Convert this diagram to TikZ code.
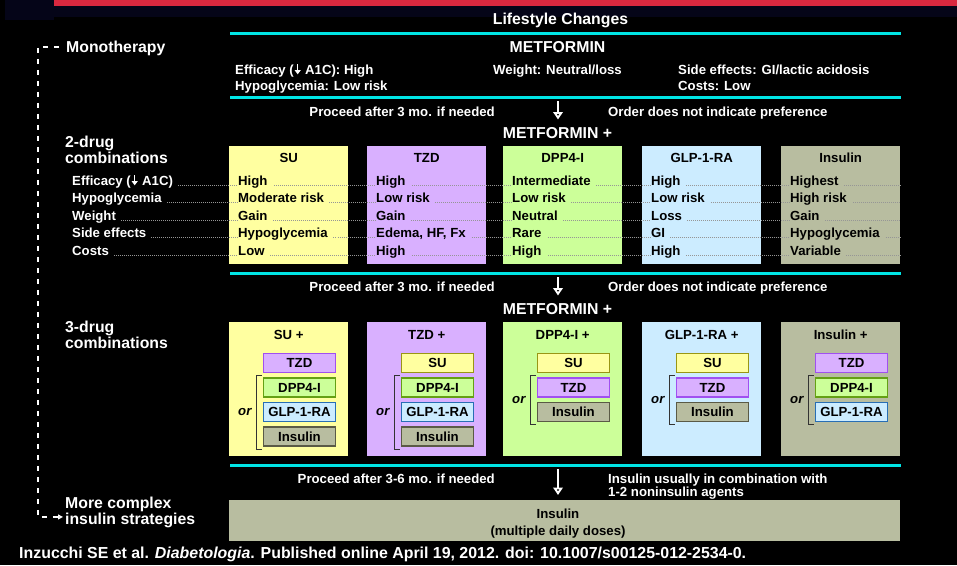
\documentclass[tikz,border=0pt]{standalone}
\usepackage{fontspec}
\setmainfont{Liberation Sans}
\usetikzlibrary{arrows.meta,calc}

\definecolor{cyanl}{RGB}{0,229,229}
\definecolor{redl}{RGB}{217,40,63}
\definecolor{navy}{RGB}{5,5,24}
\definecolor{suc}{RGB}{255,255,160}
\definecolor{tzdc}{RGB}{217,176,255}
\definecolor{dppc}{RGB}{204,255,153}
\definecolor{glpc}{RGB}{204,236,255}
\definecolor{insc}{RGB}{184,189,160}
\definecolor{sub}{RGB}{153,150,20}
\definecolor{tzdb}{RGB}{160,80,240}
\definecolor{dppb}{RGB}{100,160,20}
\definecolor{glpb}{RGB}{40,110,180}
\definecolor{insb}{RGB}{90,90,70}
\definecolor{dotc}{RGB}{150,150,150}

\newcommand{\dnarrow}{\kern0.8pt\tikz[baseline=0pt,x=1pt,y=1pt]{\draw[white,line width=1.5pt,-{Triangle[length=4.2pt,width=6pt]}] (0,9.8) -- (0,-0.3);}\kern0.8pt}
\newcommand{\drugvals}[7]{%
  \node[valtxt,fill=#2] (#1v0) at ($(#1.north west)+(9,39)$) {#3\kern5pt};
  \node[valtxt,fill=#2] (#1v1) at ($(#1.north west)+(9,56.5)$) {#4\kern5pt};
  \node[valtxt,fill=#2] (#1v2) at ($(#1.north west)+(9,74)$) {#5\kern5pt};
  \node[valtxt,fill=#2] (#1v3) at ($(#1.north west)+(9,91.5)$) {#6\kern5pt};
  \node[valtxt,fill=#2] (#1v4) at ($(#1.north west)+(9,109)$) {#7\kern5pt};
}
\newcommand{\combobox}[6]{%
  \node[smallbox,fill=#4,draw=#5] (#1) at ($(#2.north west)+(70.5,41+24.5*#3)$) {#6};}
\newcommand{\orbracket}[2]{%
  \draw[bracketline] ($(#1.north west)+(-1,-2)$) -- ++(-5,0) |- ($(#2.south west)+(-1,2.5)$);
  \node[ortxt] (#1or) at ($(#1.north west)!0.5!(#2.south west)+(-18,0)$) {or};}

\begin{document}
\begin{tikzpicture}[x=1pt,y=-1pt,
  f13/.style={font=\fontsize{13.2}{15}\selectfont\bfseries},
  f15/.style={font=\fontsize{15.8}{17}\selectfont\bfseries},
  wtxt/.style={text=white, inner sep=0pt},
  btxt/.style={text=black, inner sep=0pt},
  valtxt/.style={text=black, f13, anchor=base west, inner xsep=0pt, inner ysep=1.5pt},
  ortxt/.style={text=black, inner sep=0pt, font=\fontsize{13.2}{15}\selectfont\bfseries\itshape},
  cyanrule/.style={draw=cyanl, line width=3pt},
  bigbox/.style={draw=none, minimum width=119pt, anchor=north west, inner sep=0pt},
  smallbox/.style={line width=1.4pt, minimum width=72pt, minimum height=19pt, inner sep=0pt, f13, text=black},
  dotrule/.style={draw=dotc, line width=0.7pt, dash pattern=on 0.6pt off 1.4pt},
  downarrow/.style={draw=white, line width=2.6pt, -{Triangle[length=7.5pt,width=9.5pt]}},
  bracketline/.style={draw=black!80, line width=1.2pt},
  dashpath/.style={draw=white, line width=1.5pt, dash pattern=on 5pt off 6pt},
]
\useasboundingbox (0,0) rectangle (957,565);
\fill[black] (0,0) rectangle (957,565);
\fill[navy] (5,0) rectangle (957,17);
\fill[navy] (5,0) rectangle (54,20);
\fill[redl] (54,0) rectangle (957,6);

% ---- top: lifestyle and metformin
\node[wtxt,f15,anchor=base] (life) at (560.5,24) {Lifestyle Changes};
\draw[cyanrule] (230,33.5) -- (901,33.5);
\node[wtxt,f15,anchor=base] (met) at (557.5,52.5) {METFORMIN};
\node[wtxt,f13,anchor=base west] (meteff) at (235,74) {Efficacy (\dnarrow\ A1C): High};
\node[wtxt,f13,anchor=base west] (methyp) at (235,90) {Hypoglycemia: Low risk};
\node[wtxt,f13,anchor=base west] (metwt) at (493,74) {Weight: Neutral/loss};
\node[wtxt,f13,anchor=base west] (metse) at (678,74) {Side effects: GI/lactic acidosis};
\node[wtxt,f13,anchor=base west] (metcost) at (678,90) {Costs: Low};
\draw[cyanrule] (230,97) -- (901,97);

\node[wtxt,f13,anchor=base east] (pr1) at (495,116) {Proceed after 3 mo. if needed};
\node[wtxt,f13,anchor=base west] (od1) at (608,116) {Order does not indicate preference};
\coordinate (a1s) at (558,101);
\coordinate (a1e) at (558,119.5);
\draw[downarrow] (a1s) -- (a1e);
\node[wtxt,f15,anchor=base] (met2) at (557.5,138) {METFORMIN +};

% ---- left labels
\node[wtxt,f15,anchor=base west] (mono) at (66,52.5) {Monotherapy};
\node[wtxt,f15,anchor=base west] (two1) at (65,147) {2-drug};
\node[wtxt,f15,anchor=base west] (two2) at (65,163.5) {combinations};
\node[wtxt,f15,anchor=base west] (thr1) at (65,332) {3-drug};
\node[wtxt,f15,anchor=base west] (thr2) at (65,348.5) {combinations};
\node[wtxt,f15,anchor=base west] (mc) at (65,508) {More complex};
\node[wtxt,f15,anchor=base west] (strat) at (65,524) {insulin strategies};
\draw[dashpath, -{Triangle[length=5pt,width=5pt]}] ($(mono.west)+(-7,-1.5)$) -- ++(-21,0) |- ($(strat.west)+(-2,-3)$);

% ---- 2-drug boxes
\node[bigbox, fill=suc, minimum height=118pt] (su2) at (229,146) {};
\node[bigbox, fill=tzdc, minimum height=118pt] (tzd2) at (367,146) {};
\node[bigbox, fill=dppc, minimum height=118pt] (dpp2) at (503,146) {};
\node[bigbox, fill=glpc, minimum height=118pt] (glp2) at (642,146) {};
\node[bigbox, fill=insc, minimum height=118pt] (ins2) at (781,146) {};
\node[btxt,f13,anchor=base] (su2h) at ($(su2.north)+(0,16)$) {SU};
\node[btxt,f13,anchor=base] (tzd2h) at ($(tzd2.north)+(0,16)$) {TZD};
\node[btxt,f13,anchor=base] (dpp2h) at ($(dpp2.north)+(0,16)$) {DPP4-I};
\node[btxt,f13,anchor=base] (glp2h) at ($(glp2.north)+(0,16)$) {GLP-1-RA};
\node[btxt,f13,anchor=base] (ins2h) at ($(ins2.north)+(0,16)$) {Insulin};

\node[wtxt,f13,anchor=base west,fill=black,inner ysep=1.5pt] (row0) at (72,185) {Efficacy (\dnarrow\ A1C)\kern5pt};
\node[wtxt,f13,anchor=base west,fill=black,inner ysep=1.5pt] (row1) at (72,202.5) {Hypoglycemia\kern5pt};
\node[wtxt,f13,anchor=base west,fill=black,inner ysep=1.5pt] (row2) at (72,220) {Weight\kern5pt};
\node[wtxt,f13,anchor=base west,fill=black,inner ysep=1.5pt] (row3) at (72,237.5) {Side effects\kern5pt};
\node[wtxt,f13,anchor=base west,fill=black,inner ysep=1.5pt] (row4) at (72,255) {Costs\kern5pt};
\foreach \i in {0,...,4}{\draw[dotrule] (row\i.base east) -- (row\i.base east -| ins2.east);}

\drugvals{su2}{suc}{High}{Moderate risk}{Gain}{Hypoglycemia}{Low}
\drugvals{tzd2}{tzdc}{High}{Low risk}{Gain}{Edema, HF, Fx}{High}
\drugvals{dpp2}{dppc}{Intermediate}{Low risk}{Neutral}{Rare}{High}
\drugvals{glp2}{glpc}{High}{Low risk}{Loss}{GI}{High}
\drugvals{ins2}{insc}{Highest}{High risk}{Gain}{Hypoglycemia}{Variable}

% ---- 3-drug
\draw[cyanrule] (230,273.3) -- (901,273.3);
\node[wtxt,f13,anchor=base east] (pr2) at (495,291.5) {Proceed after 3 mo. if needed};
\node[wtxt,f13,anchor=base west] (od2) at (608,291.5) {Order does not indicate preference};
\coordinate (a2s) at (558,277);
\coordinate (a2e) at (558,295.5);
\draw[downarrow] (a2s) -- (a2e);
\node[wtxt,f15,anchor=base] (met3) at (557.5,314) {METFORMIN +};

\node[bigbox, fill=suc, minimum height=134pt] (su3) at (229,322) {};
\node[bigbox, fill=tzdc, minimum height=134pt] (tzd3) at (367,322) {};
\node[bigbox, fill=dppc, minimum height=134pt] (dpp3) at (503,322) {};
\node[bigbox, fill=glpc, minimum height=134pt] (glp3) at (642,322) {};
\node[bigbox, fill=insc, minimum height=134pt] (ins3) at (781,322) {};
\node[btxt,f13,anchor=base] (su3h) at ($(su3.north)+(0,17.5)$) {SU +};
\node[btxt,f13,anchor=base] (tzd3h) at ($(tzd3.north)+(0,17.5)$) {TZD +};
\node[btxt,f13,anchor=base] (dpp3h) at ($(dpp3.north)+(0,17.5)$) {DPP4-I +};
\node[btxt,f13,anchor=base] (glp3h) at ($(glp3.north)+(0,17.5)$) {GLP-1-RA +};
\node[btxt,f13,anchor=base] (ins3h) at ($(ins3.north)+(0,17.5)$) {Insulin +};

\combobox{suA}{su3}{0}{tzdc}{tzdb}{TZD}
\combobox{suB}{su3}{1}{dppc}{dppb}{DPP4-I}
\combobox{suC}{su3}{2}{glpc}{glpb}{GLP-1-RA}
\combobox{suD}{su3}{3}{insc}{insb}{Insulin}
\orbracket{suB}{suD}

\combobox{tzA}{tzd3}{0}{suc}{sub}{SU}
\combobox{tzB}{tzd3}{1}{dppc}{dppb}{DPP4-I}
\combobox{tzC}{tzd3}{2}{glpc}{glpb}{GLP-1-RA}
\combobox{tzD}{tzd3}{3}{insc}{insb}{Insulin}
\orbracket{tzB}{tzD}

\combobox{dpA}{dpp3}{0}{suc}{sub}{SU}
\combobox{dpB}{dpp3}{1}{tzdc}{tzdb}{TZD}
\combobox{dpC}{dpp3}{2}{insc}{insb}{Insulin}
\orbracket{dpB}{dpC}

\combobox{glA}{glp3}{0}{suc}{sub}{SU}
\combobox{glB}{glp3}{1}{tzdc}{tzdb}{TZD}
\combobox{glC}{glp3}{2}{insc}{insb}{Insulin}
\orbracket{glB}{glC}

\combobox{inA}{ins3}{0}{tzdc}{tzdb}{TZD}
\combobox{inB}{ins3}{1}{dppc}{dppb}{DPP4-I}
\combobox{inC}{ins3}{2}{glpc}{glpb}{GLP-1-RA}
\orbracket{inB}{inC}

% ---- final step
\draw[cyanrule] (230,465) -- (901,465);
\node[wtxt,f13,anchor=base east] (pr3) at (495,483) {Proceed after 3-6 mo. if needed};
\node[wtxt,f13,anchor=base west] (iu1) at (608,483) {Insulin usually in combination with};
\node[wtxt,f13,anchor=base west] (iu2) at (608,496.5) {1-2 noninsulin agents};
\coordinate (a3s) at (558,469);
\coordinate (a3e) at (558,495);
\draw[downarrow] (a3s) -- (a3e);
\node[draw=none, fill=insc, minimum width=671pt, minimum height=41pt, anchor=north west, inner sep=0pt] (insf) at (229,500) {};
\node[btxt,f13,anchor=base] (insf1) at (558,518) {Insulin};
\node[btxt,f13,anchor=base] (insf2) at (558,535.5) {(multiple daily doses)};

% ---- footer
\node[wtxt,font=\fontsize{15.9}{18}\selectfont\bfseries,anchor=base west] (foot) at (19,558) {Inzucchi SE et al. \textit{Diabetologia}. Published online April 19, 2012. doi: 10.1007/s00125-012-2534-0.};
\end{tikzpicture}
\end{document}
